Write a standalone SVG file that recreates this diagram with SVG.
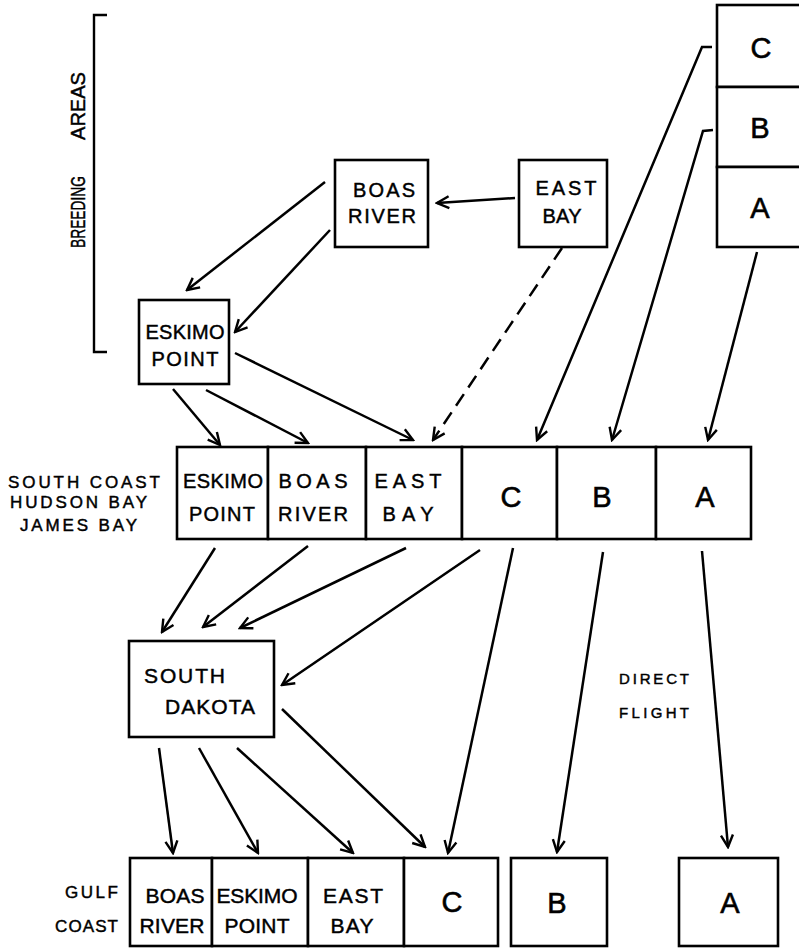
<svg xmlns="http://www.w3.org/2000/svg" width="799" height="948" viewBox="0 0 799 948">
<style>
.box{fill:#fff;stroke:#000;stroke-width:2.6}
text{font-family:"Liberation Sans",Arial,sans-serif;fill:#000;stroke:#000;stroke-width:0.45}
.lbl{font-size:20px;text-anchor:middle}
.lbl2{font-size:21px;text-anchor:middle}
.big{font-size:29px;text-anchor:middle;stroke-width:0.6}
.side{font-size:17px}
.vert{font-size:20px}
.small{font-size:15px}
.c{fill:none;stroke:#000;stroke-width:2.5;marker-end:url(#ah)}
.dash{stroke-dasharray:14 8}
</style>
<defs>
<marker id="ah" viewBox="-14 -8 16 16" refX="0" refY="0" markerWidth="16" markerHeight="16" orient="auto" markerUnits="userSpaceOnUse">
<path d="M-12,-6 L0,0 L-12,6" fill="none" stroke="#000" stroke-width="2.4" stroke-dasharray="none"/>
</marker>
</defs>
<rect width="799" height="948" fill="#fff"/>

<g id="breeding-areas">
<path d="M107,15 H94 V352 H107" fill="none" stroke="#000" stroke-width="2.4"/>
<text class="vert" transform="translate(85,248) rotate(-90)" textLength="72" lengthAdjust="spacingAndGlyphs">BREEDING</text>
<text class="vert" transform="translate(85,140) rotate(-90)" textLength="68" lengthAdjust="spacingAndGlyphs">AREAS</text>
</g>

<g id="label-south-coast">
<text class="side" x="8" y="488" textLength="152" lengthAdjust="spacing">SOUTH COAST</text>
<text class="side" x="10" y="508" textLength="137" lengthAdjust="spacing">HUDSON BAY</text>
<text class="side" x="20" y="531" textLength="117" lengthAdjust="spacing">JAMES BAY</text>
</g>
<g id="label-gulf-coast">
<text class="side" x="65" y="898" textLength="53" lengthAdjust="spacing">GULF</text>
<text class="side" x="55" y="932" textLength="63" lengthAdjust="spacing">COAST</text>
</g>
<g id="label-direct-flight">
<text class="small" x="619" y="684" textLength="70" lengthAdjust="spacing">DIRECT</text>
<text class="small" x="619" y="718" textLength="70" lengthAdjust="spacing">FLIGHT</text>
</g>

<g id="boas-river">
<rect class="box" x="335" y="160" width="93" height="87"/>
<text class="lbl" x="384" y="197" textLength="62" lengthAdjust="spacing">BOAS</text>
<text class="lbl" x="382" y="223" textLength="68" lengthAdjust="spacing">RIVER</text>
</g>
<g id="east-bay">
<rect class="box" x="519" y="160" width="88" height="87"/>
<text class="lbl" x="566" y="195" textLength="61" lengthAdjust="spacing">EAST</text>
<text class="lbl" x="562" y="223" textLength="39" lengthAdjust="spacing">BAY</text>
</g>
<g id="eskimo-point">
<rect class="box" x="139" y="300" width="90" height="84"/>
<text class="lbl" x="185" y="339" textLength="79" lengthAdjust="spacing">ESKIMO</text>
<text class="lbl" x="185" y="366" textLength="67" lengthAdjust="spacing">POINT</text>
</g>
<g id="breeding-c">
<rect class="box" x="717" y="5" width="100" height="82"/>
<text class="big" x="761" y="58">C</text>
</g>
<g id="breeding-b">
<rect class="box" x="717" y="87" width="100" height="80"/>
<text class="big" x="760" y="138">B</text>
</g>
<g id="breeding-a">
<rect class="box" x="717" y="167" width="100" height="80"/>
<text class="big" x="760" y="218">A</text>
</g>

<g id="sc-eskimo-point">
<rect class="box" x="177" y="447" width="91" height="92"/>
<text class="lbl" x="223" y="488" textLength="80" lengthAdjust="spacing">ESKIMO</text>
<text class="lbl" x="222" y="521" textLength="66" lengthAdjust="spacing">POINT</text>
</g>
<g id="sc-boas-river">
<rect class="box" x="268" y="447" width="98" height="92"/>
<text class="lbl" x="313" y="488" textLength="69" lengthAdjust="spacing">BOAS</text>
<text class="lbl" x="313" y="521" textLength="70" lengthAdjust="spacing">RIVER</text>
</g>
<g id="sc-east-bay">
<rect class="box" x="366" y="447" width="96" height="92"/>
<text class="lbl" x="408" y="488" textLength="67" lengthAdjust="spacing">EAST</text>
<text class="lbl" x="408" y="521" textLength="51" lengthAdjust="spacing">BAY</text>
</g>
<g id="sc-c">
<rect class="box" x="462" y="447" width="95" height="92"/>
<text class="big" x="511" y="507">C</text>
</g>
<g id="sc-b">
<rect class="box" x="557" y="447" width="99" height="92"/>
<text class="big" x="602" y="507">B</text>
</g>
<g id="sc-a">
<rect class="box" x="656" y="447" width="95" height="92"/>
<text class="big" x="705" y="507">A</text>
</g>

<g id="south-dakota">
<rect class="box" x="129" y="641" width="145" height="96"/>
<text class="lbl2" x="144" y="683" style="text-anchor:start" textLength="81" lengthAdjust="spacing">SOUTH</text>
<text class="lbl2" x="165" y="714" style="text-anchor:start" textLength="90" lengthAdjust="spacing">DAKOTA</text>
</g>

<g id="gc-boas-river">
<rect class="box" x="130" y="858" width="82" height="88"/>
<text class="lbl2" x="175" y="903" textLength="59" lengthAdjust="spacing">BOAS</text>
<text class="lbl2" x="172" y="933" textLength="65" lengthAdjust="spacing">RIVER</text>
</g>
<g id="gc-eskimo-point">
<rect class="box" x="212" y="858" width="96" height="88"/>
<text class="lbl2" x="257" y="903" textLength="81" lengthAdjust="spacing">ESKIMO</text>
<text class="lbl2" x="257" y="933" textLength="65" lengthAdjust="spacing">POINT</text>
</g>
<g id="gc-east-bay">
<rect class="box" x="308" y="858" width="96" height="88"/>
<text class="lbl2" x="353" y="903" textLength="60" lengthAdjust="spacing">EAST</text>
<text class="lbl2" x="352" y="933" textLength="43" lengthAdjust="spacing">BAY</text>
</g>
<g id="gc-c">
<rect class="box" x="404" y="858" width="94" height="88"/>
<text class="big" x="452" y="912">C</text>
</g>
<g id="gc-b">
<rect class="box" x="511" y="858" width="96" height="88"/>
<text class="big" x="557" y="913">B</text>
</g>
<g id="gc-a">
<rect class="box" x="679" y="858" width="99" height="88"/>
<text class="big" x="730" y="913">A</text>
</g>

<g id="connectors">
<path class="c" d="M515,198 L437,203"/>
<path class="c" d="M325,182 L187,290"/>
<path class="c" d="M330,230 L235,332"/>
<path class="c" d="M173,389 L220,445"/>
<path class="c" d="M206,390 L308,443"/>
<path class="c" d="M235,353 L413,440"/>
<path class="c dash" d="M562,248 L433,440"/>
<path class="c" d="M712,47 L702,47 L537,440"/>
<path class="c" d="M713,130 L703,131 L612,440"/>
<path class="c" d="M757,252 L708,440"/>
<path class="c" d="M215,548 L162,632"/>
<path class="c" d="M308,546 L203,627"/>
<path class="c" d="M406,548 L240,628"/>
<path class="c" d="M480,550 L282,685"/>
<path class="c" d="M159,748 L173,853"/>
<path class="c" d="M199,748 L258,853"/>
<path class="c" d="M237,748 L353,853"/>
<path class="c" d="M282,709 L425,847"/>
<path class="c" d="M513,548 L448,853"/>
<path class="c" d="M603,552 L557,852"/>
<path class="c" d="M702,551 L728,847"/>
</g>
</svg>
